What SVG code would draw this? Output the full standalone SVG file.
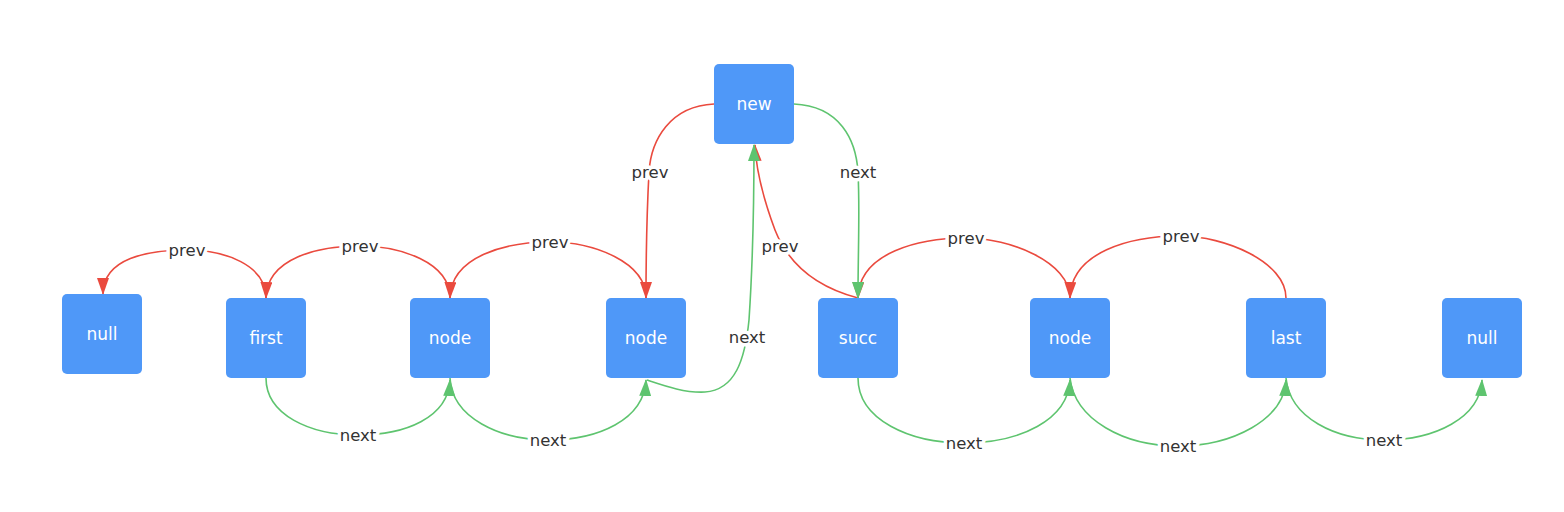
<svg xmlns="http://www.w3.org/2000/svg" width="1564" height="512" viewBox="0 0 1564 512">
<style>
.node rect{fill:#4f98f8}
.node text{fill:#fff;font-family:"DejaVu Sans","Liberation Sans",sans-serif;font-size:17px;text-anchor:middle;dominant-baseline:central}
.e{fill:none;stroke-width:1.6}
.prev{stroke:#ea4a3e;marker-end:url(#ar)}
.next{stroke:#5ec46f;marker-end:url(#ag)}
.lbl{font-family:"DejaVu Sans","Liberation Sans",sans-serif;font-size:16.5px;fill:#333;text-anchor:middle;dominant-baseline:central;stroke:#fff;stroke-width:7px;paint-order:stroke;stroke-linejoin:round}
</style>
<defs>
<marker id="ar" viewBox="0 0 17 12" refX="16" refY="6" markerWidth="17" markerHeight="12" markerUnits="userSpaceOnUse" orient="auto"><path d="M0,0 L17,6 L0,12 z" fill="#ea4a3e"/></marker>
<marker id="ag" viewBox="0 0 17 12" refX="16" refY="6" markerWidth="17" markerHeight="12" markerUnits="userSpaceOnUse" orient="auto"><path d="M0,0 L17,6 L0,12 z" fill="#5ec46f"/></marker>
</defs>
<rect width="1564" height="512" fill="#fff"/>
<g id="connectors">
<path class="e prev" d="M266,298 C266,265 225,250 187,250 C148,250 103,258 103,294"/>
<path class="e prev" d="M450,298 C450,262 400,246 360,246 C318,246 267,258 266,298"/>
<path class="e prev" d="M646,298 C646,262 594,242 550,242 C506,242 451,256 450,298"/>
<path class="e prev" d="M714,104 C670,106 651,140 649,172 C647,210 646,250 646,298"/>
<path class="e prev" d="M858,298 C820,288 790,268 775,230 C762,195 756,170 755,145"/>
<path class="e prev" d="M1070,298 C1070,262 1010,238 966,238 C920,238 859,252 858,298"/>
<path class="e prev" d="M1286,298 C1286,262 1225,236 1180,236 C1130,236 1071,252 1070,298"/>
<path class="e next" d="M794,104 C840,106 856,140 858,172 C860,210 858,250 858,298"/>
<path class="e next" d="M647,380 C665,386 685,393 705,392 C735,390 745,360 749,320 C753,260 754,200 754,145"/>
<path class="e next" d="M266,378 C266,415 310,435 358,435 C405,435 448,418 450,380"/>
<path class="e next" d="M450,378 C452,418 500,440 548,440 C598,440 644,420 646,380"/>
<path class="e next" d="M858,378 C858,420 910,443 964,443 C1020,443 1068,420 1070,380"/>
<path class="e next" d="M1070,378 C1075,420 1124,446 1178,446 C1232,446 1284,420 1286,380"/>
<path class="e next" d="M1286,378 C1290,418 1335,440 1384,440 C1435,440 1480,418 1482,380"/>
<text class="lbl" x="187" y="250">prev</text>
<text class="lbl" x="360" y="246">prev</text>
<text class="lbl" x="550" y="242">prev</text>
<text class="lbl" x="650" y="172">prev</text>
<text class="lbl" x="858" y="172">next</text>
<text class="lbl" x="780" y="246">prev</text>
<text class="lbl" x="747" y="337">next</text>
<text class="lbl" x="966" y="238">prev</text>
<text class="lbl" x="1181" y="236">prev</text>
<text class="lbl" x="358" y="435">next</text>
<text class="lbl" x="548" y="440">next</text>
<text class="lbl" x="964" y="443">next</text>
<text class="lbl" x="1178" y="446">next</text>
<text class="lbl" x="1384" y="440">next</text>
</g>
<g id="null1" class="node"><rect x="62" y="294" width="80" height="80" rx="5"/><text x="102" y="334">null</text></g>
<g id="first" class="node"><rect x="226" y="298" width="80" height="80" rx="5"/><text x="266" y="338">first</text></g>
<g id="node1" class="node"><rect x="410" y="298" width="80" height="80" rx="5"/><text x="450" y="338">node</text></g>
<g id="node2" class="node"><rect x="606" y="298" width="80" height="80" rx="5"/><text x="646" y="338">node</text></g>
<g id="new" class="node"><rect x="714" y="64" width="80" height="80" rx="5"/><text x="754" y="104">new</text></g>
<g id="succ" class="node"><rect x="818" y="298" width="80" height="80" rx="5"/><text x="858" y="338">succ</text></g>
<g id="node3" class="node"><rect x="1030" y="298" width="80" height="80" rx="5"/><text x="1070" y="338">node</text></g>
<g id="last" class="node"><rect x="1246" y="298" width="80" height="80" rx="5"/><text x="1286" y="338">last</text></g>
<g id="null2" class="node"><rect x="1442" y="298" width="80" height="80" rx="5"/><text x="1482" y="338">null</text></g>
</svg>
